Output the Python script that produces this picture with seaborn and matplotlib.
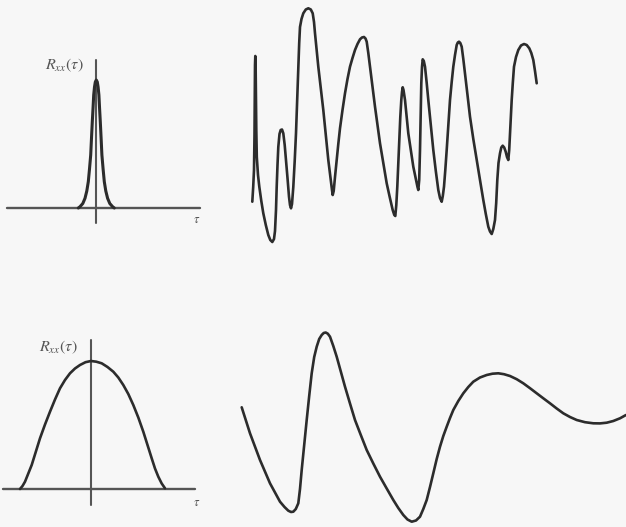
import matplotlib
matplotlib.use("Agg")
import matplotlib.pyplot as plt
import numpy as np
import pandas as pd
import seaborn as sns

sns.set_theme(style="white")
plt.rcParams["mathtext.fontset"] = "stix"

# narrow autocorrelation (top left): lag vs R_xx
narrow_tau = [-18, -16.3, -13.5, -11.3, -9.5, -8.0, -6.8, -5.6, -4.8, -4.0, -3.2, -2.6, -1.8, -1.0, 0.0,
              1.0, 1.8, 2.6, 3.2, 4.0, 4.8, 5.6, 6.8, 8.0, 9.5, 11.3, 13.5, 16.3, 18]
narrow_r = [0, 1.3, 4.5, 9.7, 17.0, 26.3, 39.0, 53.0, 70.0, 86.3, 101.0, 113.0, 121.0, 126.0, 128.0,
            126.0, 121.0, 113.0, 101.0, 86.3, 70.0, 53.0, 39.0, 26.3, 17.0, 9.7, 4.5, 1.3, 0]

# wide autocorrelation (bottom left)
wide_tau = [-71.0, -68.5, -66.0, -59.3, -51.0, -46.0, -41.0, -36.0, -31.0, -26.0, -21.0, -16.0, -11.0,
            -5.5, 0.0, 5.3, 10.7, 16.5, 22.3, 27.3, 32.3, 37.3, 42.3, 47.3, 52.3, 56.5, 60.7, 64.0,
            67.3, 70.7, 74.0]
wide_r = [0.0, 3.0, 7.3, 24.0, 50.7, 64.5, 77.3, 89.5, 100.7, 109.0, 115.7, 120.5, 124.0,
          126.8, 128.0, 127.3, 125.7, 122.0, 117.3, 111.5, 104.0, 95.0, 84.0, 71.5, 57.3, 44.0,
          30.7, 20.5, 12.3, 5.5, 0.7]

# broadband sample function (top right)
fast_t = [0.3, 1.2, 2.0, 2.5, 2.8, 3.0, 3.3, 3.6, 3.9, 4.3, 4.8, 6.0, 7.3, 9.3, 11.3, 13.8, 16.3,
          18.3, 20.3, 22.0, 23.0, 24.0, 24.7, 25.5, 26.3, 27.5, 28.7, 30.0, 31.3, 32.7, 34.0,
          35.5, 37.0, 38.0, 39.0, 40.0, 41.3, 42.7, 44.0, 45.2, 46.3, 47.2, 48.0, 49.5, 51.3,
          53.8, 56.3, 58.8, 60.7, 62.0, 63.0, 64.7, 66.3, 68.8, 71.3, 73.8, 76.3, 78.5, 80.0,
          80.7, 81.7, 83.0, 84.7, 86.3, 88.0, 90.5, 93.0, 95.5, 98.0, 100.5, 103.0, 105.5,
          108.0, 110.0, 112.0, 113.5, 114.7, 116.3, 118.0, 120.5, 123.0, 125.5, 128.0, 131.3,
          134.7, 137.7, 140.7, 142.3, 143.3, 144.3, 145.3, 146.3, 147.3, 148.3, 149.3, 150.0,
          150.7, 151.5, 153.0, 154.7, 156.3, 158.8, 161.3, 163.8, 165.5, 166.3, 167.2, 168.0,
          168.7, 169.3, 170.0, 170.7, 171.8, 173.0, 174.7, 176.3, 178.8, 181.3, 183.8, 186.3,
          188.0, 189.7, 190.8, 192.0, 193.3, 194.7, 196.3, 198.0, 199.7, 201.3, 203.0, 204.7,
          205.8, 207.0, 208.3, 209.7, 211.3, 213.0, 215.5, 218.0, 221.3, 224.7, 228.0, 231.3,
          233.8, 236.3, 238.0, 239.7, 241.3, 243.0, 244.2, 245.3, 246.5, 248.0, 249.3, 250.7,
          252.2, 253.7, 255.0, 256.3, 257.2, 258.0, 258.8, 259.7, 260.8, 262.0, 264.0, 266.3,
          269.0, 272.0, 274.7, 277.3, 279.3, 281.3, 283.0, 284.7]
fast_x = [-76.7, -62.0, -45.0, -10.0, 30.0, 60.0, 69.0, 62.0, 30.0, -5.0, -32.0, -50.0, -61.7,
          -76.0, -88.3, -100.0, -110.0, -115.0, -117.0, -114.0, -106.0, -85.0, -61.7, -40.0,
          -22.0, -9.0, -5.0, -4.5, -8.3, -20.0, -35.0, -53.0, -71.7, -80.0, -83.3, -79.0, -62.0,
          -36.0, -8.3, 25.0, 58.0, 82.0, 98.0, 106.0, 111.7, 115.5, 116.7, 115.5, 111.7, 103.0,
          91.7, 75.0, 58.3, 37.0, 15.0, -10.0, -35.0, -53.0, -65.0, -70.0, -66.0, -52.0, -35.0,
          -19.0, -3.3, 15.0, 31.7, 46.0, 58.3, 67.0, 75.0, 81.0, 85.7, 87.5, 88.0, 86.5, 83.3,
          72.0, 58.3, 38.0, 18.3, 0.0, -18.3, -38.0, -58.3, -72.0, -85.0, -90.0, -91.0, -80.0,
          -61.7, -38.0, -15.0, 8.0, 25.0, 33.0, 37.7, 35.0, 25.0, 8.0, -8.3, -25.0, -41.7,
          -54.0, -62.0, -65.0, -55.0, -25.0, 10.0, 41.7, 58.0, 65.7, 64.0, 58.3, 42.0, 25.0,
          0.0, -25.0, -46.0, -65.0, -73.0, -76.7, -71.0, -61.7, -45.0, -25.0, 0.0, 25.0, 43.0,
          58.3, 70.0, 80.0, 82.5, 83.3, 82.0, 78.3, 66.0, 51.7, 30.0, 8.3, -14.0, -35.0, -55.0,
          -75.0, -89.0, -101.7, -106.5, -109.0, -104.0, -95.0, -78.0, -55.0, -38.0, -28.3,
          -22.5, -20.7, -22.5, -26.7, -32.0, -35.0, -25.0, -8.3, 8.0, 25.0, 42.0, 58.3, 68.0,
          75.0, 79.5, 81.0, 80.0, 76.7, 72.0, 65.0, 54.0, 41.7]

# narrowband sample function (bottom right)
slow_t = [0.7, 9.0, 19.0, 29.0, 39.0, 43.5, 47.3, 50.0, 52.3, 54.8, 57.3, 59.0, 60.7, 63.2,
          65.7, 68.2, 70.7, 73.2, 75.7, 78.2, 80.7, 82.7, 84.7, 86.8, 89.0, 92.3, 95.7, 99.8,
          104.0, 109.0, 114.0, 119.8, 125.7, 132.3, 139.0, 145.7, 152.3, 157.3, 162.3, 166.5,
          170.7, 175.0, 179.0, 182.3, 185.7, 189.0, 192.3, 195.7, 199.0, 202.3, 205.7, 209.0,
          212.3, 217.3, 222.3, 227.3, 232.3, 239.0, 245.7, 251.5, 257.3, 263.0, 269.0, 275.7,
          282.3, 289.0, 295.7, 302.3, 309.0, 315.7, 322.3, 329.0, 335.7, 344.0, 352.3, 359.0,
          365.7, 372.3, 379.0, 385.0]
slow_x = [19.7, -6.3, -33.0, -56.3, -74.7, -80.0, -83.7, -85.0, -84.7, -82.0, -76.3, -62.0,
          -43.0, -18.0, 7.0, 31.0, 53.7, 70.0, 80.3, 88.0, 92.0, 94.0, 94.5, 93.3, 90.3, 81.0,
          70.3, 55.5, 40.3, 23.5, 7.0, -8.0, -23.0, -36.5, -49.7, -61.5, -73.0, -81.0, -88.0,
          -92.5, -94.7, -93.5, -89.7, -82.0, -73.0, -60.0, -46.3, -32.0, -19.7, -9.0, 0.3, 9.0,
          17.0, 26.0, 33.7, 40.0, 45.3, 49.5, 52.0, 53.3, 53.7, 52.8, 51.0, 47.8, 43.7, 38.8,
          33.7, 28.7, 23.7, 18.5, 13.7, 10.0, 7.0, 4.8, 3.7, 3.6, 4.3, 6.0, 8.7, 12.0]

W, H = 626, 527
INK = "#2c2c2c"
AXC = "#555555"

fig = plt.figure(figsize=(W / 100, H / 100), dpi=100)
fig.patch.set_facecolor("#f7f7f7")


def panel(x0, y0, x1, y1, ox, oy):
    # axes placed by pixel box, data origin at pixel (ox, oy), 1 unit = 1 px
    ax = fig.add_axes([x0 / W, 1 - y1 / H, (x1 - x0) / W, (y1 - y0) / H])
    ax.set_xlim(x0 - ox, x1 - ox)
    ax.set_ylim(oy - y1, oy - y0)
    ax.set_axis_off()
    return ax


def curve(ax, t, v, lw=1.9):
    d = pd.DataFrame({"t": t, "v": v})
    sns.lineplot(data=d, x="t", y="v", ax=ax, sort=False, estimator=None,
                 color=INK, linewidth=lw, solid_joinstyle="round", solid_capstyle="round")


# top left
ax1 = panel(0, 40, 215, 240, 96.3, 208)
ax1.plot([-89.6, 103.7], [0, 0], color=AXC, lw=1.7)
ax1.plot([0, 0], [-15.3, 148], color=AXC, lw=1.5)
curve(ax1, narrow_tau, narrow_r, lw=2.2)
ax1.text(-32, 143, r"$R_{xx}(\tau)$", fontsize=11.5, color="#555555", ha="center", va="center")
ax1.text(100.7, -12, r"$\tau$", fontsize=9, color="#555555", ha="center", va="center")

# bottom left
ax2 = panel(0, 320, 215, 527, 91, 489)
ax2.plot([-87.7, 104], [0, 0], color=AXC, lw=1.7)
ax2.plot([0, 0], [-16, 149], color=AXC, lw=1.5)
curve(ax2, wide_tau, wide_r)
ax2.text(-32, 142, r"$R_{xx}(\tau)$", fontsize=11.5, color="#555555", ha="center", va="center")
ax2.text(106, -14, r"$\tau$", fontsize=9, color="#555555", ha="center", va="center")

# top right
ax3 = panel(230, 0, 626, 260, 252, 125)
curve(ax3, fast_t, fast_x)

# bottom right
ax4 = panel(230, 320, 626, 527, 241, 427)
curve(ax4, slow_t, slow_x)

fig.savefig("out.png", dpi=100, facecolor=fig.get_facecolor())
